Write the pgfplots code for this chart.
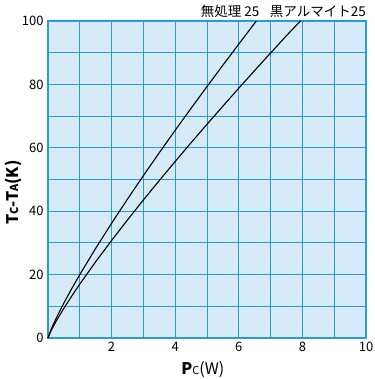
\documentclass[border=0pt]{standalone}
\usepackage{pgfplots}
\pgfplotsset{compat=1.18}
\usepackage{fontspec}
\setmainfont{Noto Sans CJK JP}
\definecolor{bgblue}{RGB}{214,235,247}
\definecolor{gridblue}{RGB}{38,156,217}
\begin{document}
\begin{tikzpicture}
\path[use as bounding box] (-48pt,-41pt) rectangle (326pt,338pt);
\begin{axis}[
  scale only axis,
  width=318pt, height=317pt,
  xmin=0, xmax=10, ymin=0, ymax=100,
  xtick={0,1,...,10},
  xticklabels={,,2,,4,,6,,8,,10},
  ytick={0,10,...,100},
  yticklabels={0,,20,,40,,60,,80,,100},
  major tick length=0pt,
  grid=major,
  grid style={draw=gridblue, line width=0.9pt},
  axis line style={draw=gridblue, line width=1.6pt},
  axis background/.style={fill=bgblue},
  /pgf/number format/assume math mode=true,
  tick label style={font=\fontsize{13}{15}\selectfont},
  xticklabel style={yshift=-1pt},
  yticklabel style={xshift=-1pt},
  xlabel={{\bfseries P}{\fontsize{11}{12}\selectfont C}(W)},
  ylabel={{\bfseries T{\fontsize{11}{12}\selectfont C}-T{\fontsize{11}{12}\selectfont A}(K)}},
  label style={font=\fontsize{16}{18}\selectfont},
  xlabel style={at={(axis description cs:0.487,-0.101)}, anchor=center},
  ylabel style={at={(axis description cs:-0.110,0.459)}, anchor=center},
  clip=false,
]
\addplot[black, line width=1.1pt] coordinates {
(0,0) (0.1,2.79) (0.25,6.10) (0.5,11.05) (0.75,15.63) (1,20) (1.5,28.30)
(2,36.20) (2.5,43.82) (3,51.22) (3.5,58.45) (4,65.52) (4.5,72.47)
(5,79.31) (5.5,86.06) (6,92.72) (6.55,100)
};
\addplot[black, line width=1.1pt] coordinates {
(0,0) (0.1,2.37) (0.25,5.19) (0.5,9.39) (0.75,13.29) (1,17.0) (1.5,24.06)
(2,30.77) (2.5,37.25) (3,43.54) (3.5,49.68) (4,55.69) (4.5,61.61)
(5,67.42) (5.5,73.15) (6,78.81) (6.5,84.39) (7,89.91) (7.5,95.39) (7.94,100)
};
\node[anchor=base west, font=\fontsize{13.5}{16}\selectfont, inner sep=0pt, yshift=4pt] at (axis cs:4.8,100) {無処理 25};
\node[anchor=base east, font=\fontsize{13.5}{16}\selectfont, inner sep=0pt, yshift=4pt] at (axis cs:10,100) {黒アルマイト25};
\end{axis}
\end{tikzpicture}
\end{document}
